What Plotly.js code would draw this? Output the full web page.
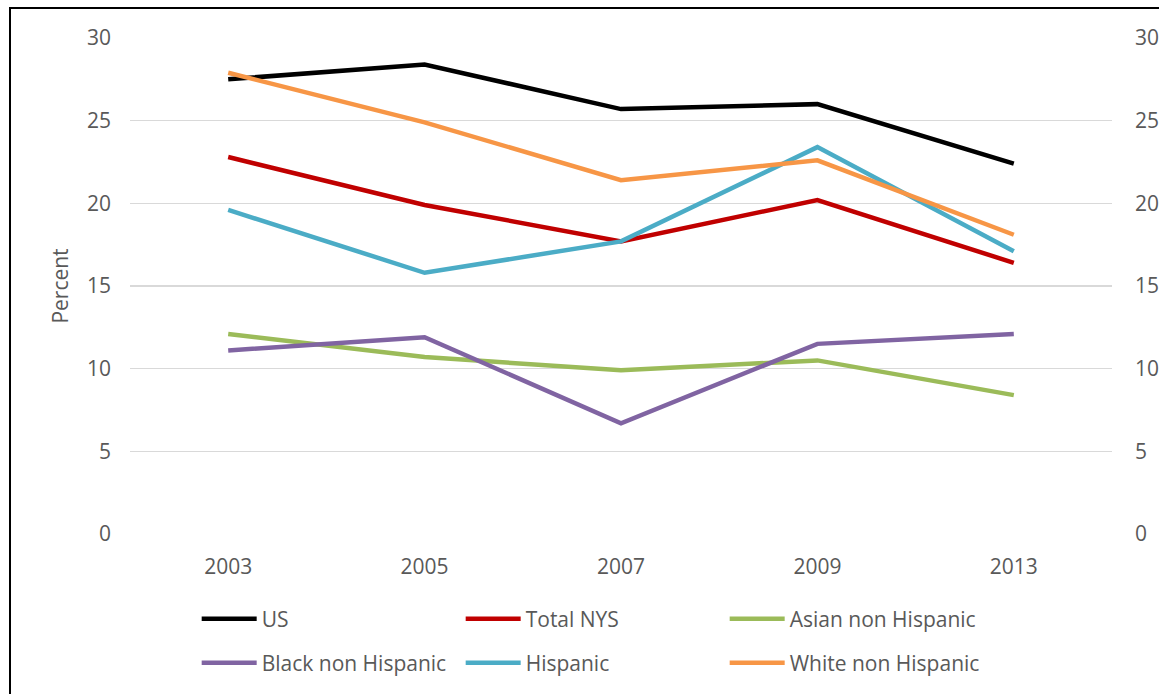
<!DOCTYPE html>
<html>
<head>
<meta charset="utf-8">
<script src="https://cdn.plot.ly/plotly-3.0.1.min.js"></script>
<style>
  html, body { margin: 0; padding: 0; background: #fff; overflow: hidden; }
  #chart { position: absolute; left: 0; top: 0; width: 1159px; height: 694px; }
  #frame { position: absolute; left: 9px; top: 7px; width: 1200px; height: 760px; border: 2px solid #000; pointer-events: none; }
</style>
</head>
<body>
<div id="chart"></div>
<div id="frame"></div>
<script>
const years = ["2003", "2005", "2007", "2009", "2013"];
const seriesNames = ["US", "Total NYS", "Asian non Hispanic", "Black non Hispanic", "Hispanic", "White non Hispanic"];
const us = [27.5, 28.4, 25.7, 26.0, 22.4];
const totalNYS = [22.8, 19.9, 17.7, 20.2, 16.4];
const asian = [12.1, 10.7, 9.9, 10.5, 8.4];
const black = [11.1, 11.9, 6.7, 11.5, 12.1];
const hispanic = [19.6, 15.8, 17.7, 23.4, 17.1];
const white = [27.9, 24.9, 21.4, 22.6, 18.1];
const colors = ["#000000", "#C00000", "#9BBB59", "#8064A2", "#4BACC6", "#F79646"];
const yTicks = [0, 5, 10, 15, 20, 25, 30];
const legendRow = ["legend", "legend", "legend", "legend2", "legend2", "legend2"];

const values = [us, totalNYS, asian, black, hispanic, white];
const traces = values.map((v, i) => ({
  type: "scatter",
  mode: "lines",
  name: seriesNames[i],
  x: years,
  y: v,
  legend: legendRow[i],
  line: { color: colors[i], width: 4.5 },
  hoverinfo: "x+y+name"
}));

const font = { family: "Open Sans, Noto Sans, sans-serif", size: 21, color: "#595959" };

const legendBase = {
  orientation: "h",
  xref: "container",
  yref: "container",
  x: 0.1697,
  xanchor: "left",
  yanchor: "middle",
  entrywidth: 194,
  itemwidth: 55,
  font: font,
  bgcolor: "rgba(0,0,0,0)"
};

const layout = {
  width: 1159,
  height: 694,
  margin: { l: 130, r: 47, t: 38, b: 160 },
  paper_bgcolor: "#ffffff",
  plot_bgcolor: "#ffffff",
  font: font,
  showlegend: true,
  xaxis: {
    type: "category",
    range: [-0.5, 4.5],
    showgrid: false,
    zeroline: false,
    showline: false,
    ticks: "",
    ticklabelstandoff: 18,
    tickfont: font
  },
  yaxis: {
    range: [0, 30],
    tickvals: yTicks,
    ticktext: yTicks.map(String),
    showgrid: true,
    gridcolor: "#D9D9D9",
    gridwidth: 1.5,
    zeroline: false,
    showline: false,
    ticks: "",
    ticklabelstandoff: 18,
    tickfont: font,
    title: { text: "Percent", font: font, standoff: 12 }
  },
  yaxis2: {
    range: [0, 30],
    overlaying: "y",
    side: "right",
    tickvals: yTicks,
    ticktext: yTicks.map(String),
    showgrid: false,
    zeroline: false,
    showline: false,
    ticks: "",
    ticklabelstandoff: 22,
    tickfont: font
  },
  legend: Object.assign({}, legendBase, { y: 1 - 619 / 694 }),
  legend2: Object.assign({}, legendBase, { y: 1 - 663 / 694 })
};

// invisible anchor trace so the right-hand axis is drawn
traces.push({
  type: "scatter", mode: "lines", x: years, y: us, yaxis: "y2",
  line: { width: 0, color: "rgba(0,0,0,0)" }, showlegend: false, hoverinfo: "skip"
});

Plotly.newPlot("chart", traces, layout, { displayModeBar: false, staticPlot: true });
</script>
</body>
</html>
